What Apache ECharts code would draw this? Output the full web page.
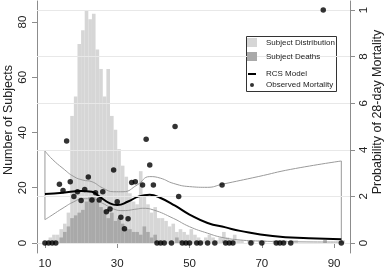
<!DOCTYPE html>
<html>
<head>
<meta charset="utf-8">
<script src="https://cdn.jsdelivr.net/npm/echarts@6/dist/echarts.min.js"></script>
<style>html,body{margin:0;padding:0;background:#fff}#main{width:387px;height:272px}</style>
</head>
<body>
<div id="main"></div>
<script>
// histogram bins of one year, first bin starts at binStart
var binStart = 11;
var distCounts = [2,3,3,5,7,11,46,53,72,77,
  84,81,83,70,63,53,63,46,41,34,
  28,24,18,15,14,26,17,14,11,13,
  9,9,8,6,7,4,5,4,3,5,
  3,2,1,2,3,2,1,2,4,2,
  1,3,1,1,0,1,1,0,1,1,
  0,0,1,1,1,1,0,1,1,0,
  0,0,0,0,0,0,1,0,0,0,
  0,1];
var deathCounts = [0,0,0,2,4,6,9,10,11,12,
  15,17,17,15,13,12,9,11,8,9,
  7,5,5,4,4,3,6,4,2,3,
  0,0,0,0,0,2,1,0,0,0,
  0,0,0,0,0,0,0,0,1,0,
  0,0,0,0,0,0,0,0,0,0,
  0,0,0,0,0,0,0,0,0,0,
  0,0,0,0,0,0,1,0,0,0,
  0,0];

// restricted cubic spline fit and 95% band (probability)
var rcsModel = [[10,.21],[15,.216],[20,.223],[23,.22],[25,.2],[28,.17],[30,.163],[33,.178],[36,.2],[39,.207],
  [42,.193],[46,.16],[50,.122],[55,.086],[60,.067],[64,.052],[73,.03],[83,.02],[92,.016]];
var ciUpper = [[10,.395],[12,.36],[15,.32],[18,.285],[20.5,.27],[23,.263],[26,.236],[29,.22],[31.6,.22],[35.5,.249],
  [39,.285],[42,.278],[45.5,.256],[50,.242],[55,.239],[59,.252],[69,.285],[78,.316],[92,.352]];
var ciLower = [[10,.1],[12,.12],[15,.15],[18,.177],[20.5,.19],[23,.19],[26,.17],[29,.146],[31.6,.139],[35.5,.146],
  [37,.149],[40,.142],[45.5,.106],[50,.07],[55,.042],[59,.024],[64,.013],[70,.008],[80,.005],[92,.004]];

// observed mortality per age
var observed = [[10,0],[11,0],[12,0],[13,0],[14,.252],[15,.225],[16,.438],[17,.263],[18,.2],[19,.22],
  [20,.182],[21,.23],[22,.283],[23,.185],[24,.216],[25,.185],[26,.22],[27,.134],[28,.146],[29,.313],
  [30,.177],[31,.11],[32,.061],[33,.104],[34,.26],[35,.263],[37,.249],[38,.445],[39,.335],[40,.249],
  [41,0],[42,0],[43,0],[45,0],[46,.5],[47,.2],[48,0],[49,0],[50,0],[52,0],[53,0],[55,0],[57,0],
  [59,.249],[60,0],[61,0],[62,0],[67,0],[70,0],[74,0],[75,0],[76,0],[78,0],[87,1],[92,0]];

var xTicks = [10,30,50,70,90];
var leftTicks = [0,20,40,60,80];
var rightTicks = [0,.2,.4,.6,.8,1];
var rightLabels = ['0','2','4','6','8','1'];

function bins(counts) {
  return counts.map(function (c, i) { return [binStart + i, binStart + i + 1, c]; });
}

function barItem(params, api) {
  var p0 = api.coord([api.value(0), 0]);
  var p1 = api.coord([api.value(1), api.value(2)]);
  return {
    type: 'rect',
    shape: { x: p0[0], y: p1[1], width: p1[0] - p0[0], height: p0[1] - p1[1] },
    style: { fill: api.visual('color') }
  };
}

var axisCol = '#8c8c8c';
var txt = '#222';
var font = 'Liberation Sans, Arial, sans-serif';

var chart = echarts.init(document.getElementById('main'));
var option = {
  animation: false,
  textStyle: { fontFamily: font },
  grid: { left: 37, right: 37, top: 1, bottom: 19 },
  xAxis: {
    type: 'value', min: 7.8, max: 94.4,
    axisLine: { lineStyle: { color: axisCol } },
    axisTick: { customValues: xTicks, length: 5, lineStyle: { color: axisCol } },
    axisLabel: { customValues: xTicks, color: txt, fontSize: 11.5, margin: 5 },
    splitLine: { show: false }
  },
  yAxis: [{
    type: 'value', min: -3.62, max: 87.6,
    axisLine: { show: true, lineStyle: { color: axisCol } },
    axisTick: { show: true, customValues: leftTicks, length: 5, lineStyle: { color: axisCol } },
    axisLabel: { customValues: leftTicks, color: txt, fontSize: 11.5, rotate: 90, margin: 8 },
    splitLine: { show: false }
  }, {
    type: 'value', min: -0.0429, max: 1.0386, position: 'right',
    axisLine: { show: true, lineStyle: { color: axisCol } },
    axisTick: { show: true, customValues: rightTicks, length: 5, lineStyle: { color: axisCol } },
    axisLabel: {
      customValues: rightTicks, color: txt, fontSize: 11.5, rotate: 90, margin: 8,
      formatter: function (v) { return rightLabels[rightTicks.indexOf(Math.round(v * 10) / 10)]; }
    },
    splitLine: { show: false }
  }],
  legend: [
    { data: [{ name: 'Subject Distribution', icon: 'rect' }], left: 247, top: 38, itemWidth: 10, itemHeight: 9, padding: 0, z: 6,
      textStyle: { fontSize: 8, color: txt, padding: [0, 0, 0, 4] } },
    { data: [{ name: 'Subject Deaths', icon: 'rect' }], left: 247, top: 52, itemWidth: 10, itemHeight: 9, padding: 0, z: 6,
      textStyle: { fontSize: 8, color: txt, padding: [0, 0, 0, 4] } },
    { data: [{ name: 'RCS Model', icon: 'rect' }], left: 248, top: 70, itemWidth: 8, itemHeight: 2, padding: 0, z: 6,
      textStyle: { fontSize: 8, color: txt, padding: [0, 0, 0, 5] } },
    { data: [{ name: 'Observed Mortality', icon: 'circle' }], left: 250, top: 81, itemWidth: 4, itemHeight: 4, padding: 0, z: 6,
      textStyle: { fontSize: 8, color: txt, padding: [0, 0, 0, 7] } }
  ],
  graphic: [
    { type: 'rect', left: 246, top: 36, z: 5, shape: { width: 90, height: 55 },
      style: { fill: '#fff', stroke: '#333', lineWidth: 1 } },
    { type: 'text', x: 9, y: 120, rotation: Math.PI / 2, z: 5,
      style: { text: 'Number of Subjects', fill: txt, font: '12.5px ' + font, align: 'center', verticalAlign: 'middle' } },
    { type: 'text', x: 378, y: 112, rotation: Math.PI / 2, z: 5,
      style: { text: 'Probability of 28-day Mortality', fill: txt, font: '12.5px ' + font, align: 'center', verticalAlign: 'middle' } }
  ],
  series: [
    {
      name: 'Subject Distribution', type: 'custom', yAxisIndex: 0,
      itemStyle: { color: '#d6d6d6' },
      encode: { x: [0, 1], y: 2 },
      renderItem: barItem, data: bins(distCounts), z: 1
    },
    {
      name: 'Subject Deaths', type: 'custom', yAxisIndex: 0,
      itemStyle: { color: '#a9a9a9' },
      encode: { x: [0, 1], y: 2 },
      renderItem: barItem, data: bins(deathCounts), z: 1
    },
    {
      name: 'grid', type: 'line', yAxisIndex: 1, data: [], silent: true,
      markLine: {
        silent: true, symbol: 'none', label: { show: false },
        lineStyle: { color: '#e8e8e8', type: 'solid', width: 1 },
        data: rightTicks.map(function (v) { return { yAxis: v }; })
      }, z: 0
    },
    {
      name: 'upper', type: 'line', yAxisIndex: 1, data: ciUpper, smooth: true,
      symbol: 'none', lineStyle: { color: '#9a9a9a', width: 1 }, z: 3
    },
    {
      name: 'lower', type: 'line', yAxisIndex: 1, data: ciLower, smooth: true,
      symbol: 'none', lineStyle: { color: '#9a9a9a', width: 1 }, z: 3
    },
    {
      name: 'edges', type: 'line', yAxisIndex: 1, symbol: 'none', connectNulls: false,
      data: [ciUpper[0], ciLower[0], '-', ciUpper[ciUpper.length - 1], ciLower[ciLower.length - 1]],
      lineStyle: { color: '#9a9a9a', width: 1 }, z: 3
    },
    {
      name: 'RCS Model', type: 'line', yAxisIndex: 1, data: rcsModel, smooth: true,
      symbol: 'none', itemStyle: { color: '#000' }, lineStyle: { color: '#000', width: 2 }, z: 4
    },
    {
      name: 'Observed Mortality', type: 'scatter', yAxisIndex: 1, data: observed,
      symbolSize: 5.5, itemStyle: { color: '#000' }, z: 5
    }
  ]
};
chart.setOption(option);
</script>
</body>
</html>
